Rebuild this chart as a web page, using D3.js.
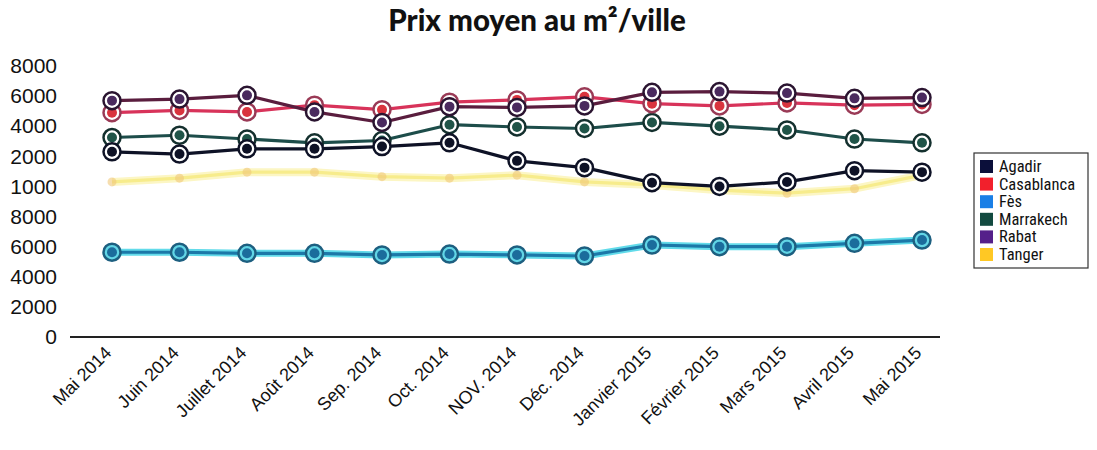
<!DOCTYPE html>
<html>
<head>
<meta charset="utf-8">
<script src="https://cdn.jsdelivr.net/npm/d3@7"></script>
<style>
  body { margin: 0; background: #fff; }
  svg { display: block; }
</style>
</head>
<body>
<script>
// months on the x axis
var months = ["Mai 2014","Juin 2014","Juillet 2014","Août 2014","Sep. 2014","Oct. 2014","NOV. 2014",
              "Déc. 2014","Janvier 2015","Février 2015","Mars 2015","Avril 2015","Mai 2015"];

// y tick values and the labels as printed (the leading "1" is cut off on the scan)
var yTicks  = [0,2000,4000,6000,8000,10000,12000,14000,16000,18000];
var yLabels = ["0","2000","4000","6000","8000","1000","2000","4000","6000","8000"];

var cities = ["Agadir","Casablanca","Fès","Marrakech","Rabat","Tanger"];

var agadir     = [12300,12150,12500,12500,12650,12900,11700,11250,10250,10000,10300,11050,10950];
var casablanca = [14900,15050,14950,15400,15100,15600,15750,15950,15500,15350,15550,15400,15450];
var fes        = [5630,5630,5560,5560,5450,5510,5450,5380,6110,6000,6000,6220,6440];
var marrakech  = [13250,13400,13150,12900,13050,14100,13950,13850,14250,14000,13750,13150,12900];
var rabat      = [15700,15800,16050,14950,14250,15300,15250,15350,16250,16300,16200,15850,15900];
var tanger     = [10300,10550,10950,10950,10650,10550,10750,10300,10100,9750,9550,9850,10750];

var series = [
  {name:"Tanger",     values:tanger,     line:"#f7ec8c", halo:"#fcf6c4", ring:null,      dot:"#f0c87a"},
  {name:"Fès",        values:fes,        line:"#1c78a8", halo:"#62dbea", ring:"#62d6e6", dot:"#1b6c9c", edge:"#1d5f80"},
  {name:"Marrakech",  values:marrakech,  line:"#1d4d4a", halo:null,      ring:"#ffffff", dot:"#1f5448", edge:"#14302e"},
  {name:"Agadir",     values:agadir,     line:"#0e1226", halo:null,      ring:"#ffffff", dot:"#0e1226", edge:"#0e1226"},
  {name:"Casablanca", values:casablanca, line:"#d8335a", halo:null,      ring:"#ffffff", dot:"#d9343e", edge:"#9a3a56"},
  {name:"Rabat",      values:rabat,      line:"#5a1d3e", halo:null,      ring:"#ffffff", dot:"#4a2a5e", edge:"#2a1430"}
];

var legendColors = {"Agadir":"#0b0f3a","Casablanca":"#f2202c","Fès":"#1a7fe6","Marrakech":"#124a40","Rabat":"#55208a","Tanger":"#ffc824"};

var W = 1097, H = 450;
var svg = d3.select("body").append("svg").attr("width",W).attr("height",H);

var x = d3.scalePoint().domain(months).range([112,922]);
var y = d3.scaleLinear().domain([0,18000]).range([337,66]);

svg.append("text")
   .attr("x",537).attr("y",31)
   .attr("text-anchor","middle")
   .attr("font-family","Lato, 'Open Sans', sans-serif")
   .attr("font-weight",900)
   .attr("font-size",29.5)
   .attr("fill","#111")
   .text("Prix moyen au m²/ville");

// y axis labels only (no line)
var yAxis = d3.axisLeft(y).tickValues(yTicks)
   .tickFormat(function(d,i){ return yLabels[i]; })
   .tickSize(0).tickPadding(0);
var gy = svg.append("g").attr("transform","translate(57,0)").call(yAxis);
gy.select(".domain").remove();
gy.selectAll("text")
  .attr("font-family","'Liberation Sans', Arial, sans-serif")
  .attr("font-size",21)
  .attr("fill","#111");

// x axis: baseline and rotated labels
var xAxis = d3.axisBottom(x).tickSize(0).tickPadding(0);
var gx = svg.append("g").attr("transform","translate(0,337)").call(xAxis);
gx.select(".domain").remove();
gx.selectAll("text")
  .attr("font-family","'Liberation Sans', Arial, sans-serif")
  .attr("font-size",18)
  .attr("fill","#111")
  .attr("text-anchor","end")
  .attr("dy",0)
  .attr("transform","translate(0,17) rotate(-45)");

svg.append("line")
   .attr("x1",70).attr("x2",940)
   .attr("y1",337).attr("y2",337)
   .attr("stroke","#222").attr("stroke-width",2);

var line = d3.line()
   .x(function(d,i){ return x(months[i]); })
   .y(function(d){ return y(d); });

series.forEach(function(s){
  var g = svg.append("g");
  if (s.halo) {
    g.append("path").attr("d",line(s.values))
     .attr("fill","none").attr("stroke",s.halo)
     .attr("stroke-width", s.name=="Tanger" ? 8 : 7)
     .attr("stroke-linejoin","round");
  }
  g.append("path").attr("d",line(s.values))
   .attr("fill","none").attr("stroke",s.line)
   .attr("stroke-width",3.2)
   .attr("stroke-linejoin","round");

  if (s.ring) {
    g.selectAll("circle.ring").data(s.values).enter().append("circle")
     .attr("class","ring")
     .attr("cx",function(d,i){ return x(months[i]); })
     .attr("cy",function(d){ return y(d); })
     .attr("r",8.5)
     .attr("fill",s.ring).attr("stroke",s.edge).attr("stroke-width",2.5);
  }
  g.selectAll("circle.dot").data(s.values).enter().append("circle")
   .attr("class","dot")
   .attr("cx",function(d,i){ return x(months[i]); })
   .attr("cy",function(d){ return y(d); })
   .attr("r", s.ring ? 5 : 4.5)
   .attr("fill",s.dot)
   .attr("opacity", s.ring ? 1 : 0.6);
});

// legend
var lg = svg.append("g").attr("transform","translate(974,153)");
lg.append("rect").attr("width",114).attr("height",115)
  .attr("fill","#fff").attr("stroke","#333").attr("stroke-width",1.2);
var items = lg.selectAll("g.item").data(cities).enter().append("g")
  .attr("transform",function(d,i){ return "translate(6," + (7 + i*17.6) + ")"; });
items.append("rect").attr("width",13).attr("height",13)
  .attr("fill",function(d){ return legendColors[d]; });
items.append("text").attr("x",19).attr("y",12)
  .attr("font-family","'Liberation Sans Narrow', 'Roboto Condensed', Roboto, sans-serif")
  .attr("font-size",16.5)
  .attr("fill","#111")
  .text(function(d){ return d; });
</script>
</body>
</html>
